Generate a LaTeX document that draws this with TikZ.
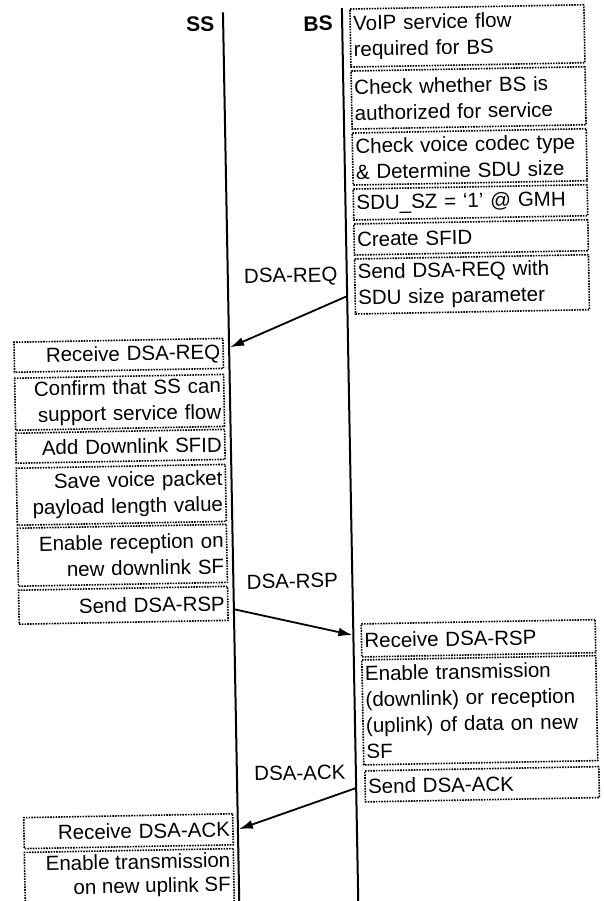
\documentclass[tikz,border=0pt]{standalone}
\usepackage{fontspec}
\setmainfont{Liberation Sans}
\usetikzlibrary{arrows.meta}
\begin{document}
\begin{tikzpicture}[x=1pt,y=-1pt,
  every node/.style={font=\fontsize{20.5}{26}\selectfont, inner sep=0pt},
  boxbase/.style={draw, line width=1.6pt, dash pattern=on 1.6pt off 1.1pt, inner xsep=3pt, inner ysep=0pt},
  rbox/.style={boxbase, align=left, text width=228pt, minimum width=234pt},
  lbox/.style={boxbase, align=right, text width=203pt, minimum width=209pt},
  life/.style={line width=2pt},
  msg/.style={line width=1.8pt, -{Latex[length=14pt,width=9pt]}},
  actor/.style={font=\fontsize{21}{24}\selectfont\bfseries},
  msglabel/.style={}]
\useasboundingbox (0,0) rectangle (603,901);
\fill[white] (0,0) rectangle (603,901);
\clip (0,0) rectangle (603,901);
\begin{scope}[rotate around={1.05:(301.5,450.5)}, transform shape]
  % lifelines
  \coordinate (ssTop) at (231,11);
  \coordinate (ssBot) at (231,930);
  \coordinate (bsTop) at (350,9);
  \coordinate (bsBot) at (350,930);
  \draw[life] (ssTop) -- (ssBot);
  \draw[life] (bsTop) -- (bsBot);
  \node[actor] (ss) at (208,22) {SS};
  \node[actor] (bs) at (326,24) {BS};

  % BS boxes (top)
  \node[rbox, minimum height=58pt] (r1) at (475,39) {VoIP service flow\\required for BS};
  \node[rbox, minimum height=58pt] (r2) at (475,101) {Check whether BS is\\authorized for service};
  \node[rbox, minimum height=52pt] (r3) at (475,160) {Check voice codec type\\\& Determine SDU size};
  \node[rbox, minimum height=31pt] (r4) at (475,205.5) {SDU\_SZ = ‘1’ @ GMH};
  \node[rbox, minimum height=31pt] (r5) at (475,240.5) {Create SFID};
  \node[rbox, minimum height=55pt] (r6) at (475,287.5) {Send DSA-REQ with\\SDU size parameter};

  % SS boxes
  \node[lbox, minimum height=30pt] (l1) at (120.5,352) {Receive DSA-REQ};
  \node[lbox, minimum height=52pt] (l2) at (120.5,399) {Confirm that SS can\\support service flow};
  \node[lbox, minimum height=30pt] (l3) at (120.5,443) {Add Downlink SFID};
  \node[lbox, minimum height=57pt] (l4) at (120.5,491.5) {Save voice packet\\payload length value};
  \node[lbox, minimum height=58pt] (l5) at (120.5,552) {Enable reception on\\new downlink SF};
  \node[lbox, minimum height=34pt] (l6) at (120.5,602) {Send DSA-RSP};

  % BS boxes (bottom)
  \node[rbox, minimum height=33pt] (r7) at (475,641.5) {Receive DSA-RSP};
  \node[rbox, minimum height=105pt] (r8) at (475,713.5) {Enable transmission\\(downlink) or reception\\(uplink) of data on new\\SF};
  \node[rbox, minimum height=31pt] (r9) at (476,787.5) {Send DSA-ACK};

  % SS boxes (bottom)
  \node[lbox, minimum height=31pt] (l7) at (121.5,828) {Receive DSA-ACK};
  \node[boxbase, minimum width=209pt, minimum height=70pt, anchor=north] (l8) at (121.5,846.5) {};
  \node[anchor=north east, align=right] (l8text) at (223,851) {Enable transmission\\[-2pt]on new uplink SF};

  % messages
  \coordinate (reqS) at (350,297);
  \coordinate (reqE) at (232,346);
  \coordinate (rspS) at (231,608);
  \coordinate (rspE) at (349,636);
  \coordinate (ackS) at (350,789);
  \coordinate (ackE) at (232,828);
  \draw[msg] (reqS) -- (reqE);
  \draw[msg] (rspS) -- (rspE);
  \draw[msg] (ackS) -- (ackE);
  \node[msglabel] (reqlab) at (294,277) {DSA-REQ};
  \node[msglabel] (rsplab) at (290,581) {DSA-RSP};
  \node[msglabel] (acklab) at (294,773) {DSA-ACK};
\end{scope}
\end{tikzpicture}
\end{document}
